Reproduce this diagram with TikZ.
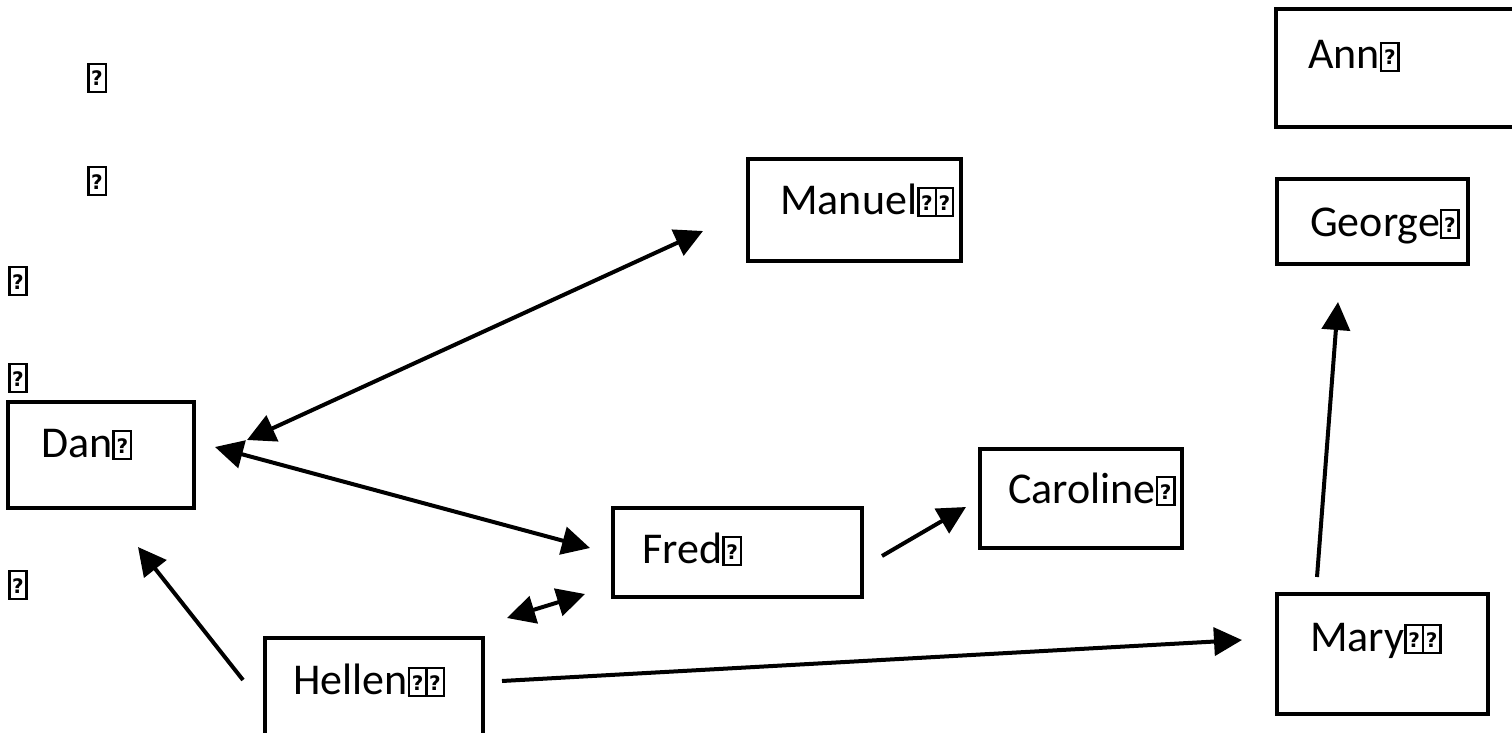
\documentclass[tikz,border=0pt]{standalone}
\usepackage{fontspec}
\setmainfont{Carlito}
\newfontfamily\qfont{DejaVu Sans}
\usetikzlibrary{arrows.meta}
\newcommand{\mg}{{\setlength{\fboxsep}{0pt}\setlength{\fboxrule}{2.4pt}\fbox{\makebox[15pt]{\rule[-1pt]{0pt}{26pt}\raisebox{4pt}{\qfont\bfseries\fontsize{20}{20}\selectfont ?}}}}}
\newcommand{\mgg}{\mg\kern-2.4pt\mg}
\tikzset{
  box/.style={draw, line width=4pt, rectangle, inner sep=0pt},
  lbl/.style={anchor=base west, inner sep=0pt, font=\fontsize{44}{50}\selectfont},
  glyph/.style={inner sep=0pt, font=\fontsize{44}{50}\selectfont},
  conn/.style={line width=4pt, -{Triangle[length=28pt,width=28pt]}},
  conn2/.style={line width=4pt, {Triangle[length=28pt,width=28pt]}-{Triangle[length=28pt,width=28pt]}},
}
\begin{document}
\begin{tikzpicture}[x=1pt,y=-1pt]
\useasboundingbox (0,0) rectangle (1512,733);
\clip (0,0) rectangle (1512,733);
% boxes
\node[box, minimum width=186pt, minimum height=106pt] (dan) at (101,455) {};
\node[box, minimum width=213pt, minimum height=102pt] (manuel) at (854.5,210) {};
\node[box, minimum width=244pt, minimum height=118pt] (ann) at (1398,68) {};
\node[box, minimum width=191pt, minimum height=85pt] (george) at (1372.5,221.5) {};
\node[box, minimum width=202pt, minimum height=99pt] (caroline) at (1081,498.5) {};
\node[box, minimum width=249pt, minimum height=89pt] (fred) at (737.5,552.5) {};
\node[box, minimum width=218pt, minimum height=107pt] (hellen) at (374,691.5) {};
\node[box, minimum width=211pt, minimum height=120pt] (mary) at (1382.5,654) {};
% labels
\node[lbl] (dan-l) at (41,457) {Dan\mg};
\node[lbl] (manuel-l) at (780,214) {Manuel\mgg};
\node[lbl] (ann-l) at (1308,69) {Ann\mg};
\node[lbl] (george-l) at (1310,236) {George\mg};
\node[lbl] (caroline-l) at (1008,503) {Caroline\mg};
\node[lbl] (fred-l) at (642,563) {Fred\mg};
\node[lbl] (hellen-l) at (293,694) {Hellen\mgg};
\node[lbl] (mary-l) at (1310,651) {Mary\mgg};
% free glyphs
\node[glyph] (g1) at (97,78) {\mg};
\node[glyph] (g2) at (97,181) {\mg};
\node[glyph] (g3) at (18,281) {\mg};
\node[glyph] (g4) at (18,378) {\mg};
\node[glyph] (g5) at (18,585) {\mg};
% connector ends
\coordinate (dm1) at (247,440);
\coordinate (dm2) at (703,231);
\coordinate (df1) at (215,447);
\coordinate (df2) at (590,548);
\coordinate (hd1) at (243,680);
\coordinate (hd2) at (138,547);
\coordinate (hf1) at (507,618);
\coordinate (hf2) at (585,594);
\coordinate (fc1) at (882,556);
\coordinate (fc2) at (966,507);
\coordinate (hm1) at (502,681);
\coordinate (hm2) at (1242,640);
\coordinate (mg1) at (1317,577);
\coordinate (mg2) at (1338,302);
% connectors
\draw[conn2] (dm1) -- (dm2);
\draw[conn2] (df1) -- (df2);
\draw[conn] (hd1) -- (hd2);
\draw[conn2] (hf1) -- (hf2);
\draw[conn] (fc1) -- (fc2);
\draw[conn] (hm1) -- (hm2);
\draw[conn] (mg1) -- (mg2);
\end{tikzpicture}
\end{document}
